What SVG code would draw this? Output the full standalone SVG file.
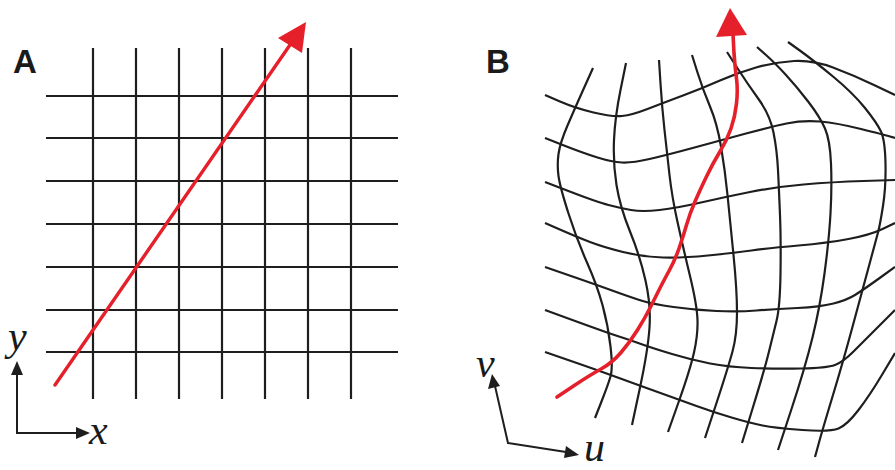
<svg xmlns="http://www.w3.org/2000/svg" width="895" height="470" viewBox="0 0 895 470">
<style>
.grid{fill:none;stroke:#1e1e1e;stroke-width:2.2;stroke-linecap:butt}
.red{fill:none;stroke:#e5202b;stroke-linecap:round}
.redfill{fill:#e5202b}
.axis{fill:none;stroke:#1e1e1e;stroke-width:2}
.axhead{fill:#1e1e1e}
.panel{font-family:"Liberation Sans",Arial,sans-serif;font-weight:bold;font-size:33px;fill:#1a1a1a}
.var{font-family:"Liberation Serif","Times New Roman",serif;font-style:italic;font-size:42px;fill:#1a1a1a}
</style>
<rect width="895" height="470" fill="#ffffff"/>

<g id="panelA">
  <text class="panel" x="13" y="73">A</text>
  <g id="gridA" class="grid">
    <line x1="93" y1="48" x2="93" y2="399"/>
    <line x1="136" y1="48" x2="136" y2="399"/>
    <line x1="179" y1="48" x2="179" y2="399"/>
    <line x1="222" y1="48" x2="222" y2="399"/>
    <line x1="265" y1="48" x2="265" y2="399"/>
    <line x1="308" y1="48" x2="308" y2="399"/>
    <line x1="351" y1="48" x2="351" y2="399"/>
    <line x1="46" y1="96" x2="398" y2="96"/>
    <line x1="46" y1="138" x2="398" y2="138"/>
    <line x1="46" y1="181" x2="398" y2="181"/>
    <line x1="46" y1="224" x2="398" y2="224"/>
    <line x1="46" y1="267" x2="398" y2="267"/>
    <line x1="46" y1="310" x2="398" y2="310"/>
    <line x1="46" y1="352" x2="398" y2="352"/>
  </g>
  <g id="pathA">
    <line class="red" stroke-width="3.4" x1="55" y1="385" x2="292" y2="42"/>
    <polygon class="redfill" points="306,22 278,38 302,53"/>
  </g>
  <g id="axesA">
    <polyline class="axis" points="17,372 17,433 78,433"/>
    <polygon class="axhead" points="17,361 11,375 23,375"/>
    <polygon class="axhead" points="90,433 76,427 76,439"/>
    <text class="var" x="8" y="350">y</text>
    <text class="var" x="89" y="444">x</text>
  </g>
</g>

<g id="panelB">
  <text class="panel" x="486" y="73">B</text>
  <g id="gridB" class="grid">
    <path d="M545,95 L560,101.5 Q575,108 593.5,112.5 Q612,117 622,116 Q632,115 647.5,109 Q663,103 683,95.5 Q703,88 720,80.5 Q737,73 756,67.5 Q775,62 794,61 Q813,60 833,67.5 Q853,75 874,85 L895,95"/>
    <path d="M545,138 L564,145.5 Q583,153 597.5,157.5 Q612,162 622,162.5 Q632,163 649.5,159 Q667,155 694.5,147.5 Q722,140 746,133.5 Q770,127 786.5,123.5 Q803,120 820,121.5 Q837,123 861,129 Q885,135 890,136.5 L895,138"/>
    <path d="M545,182 L571,192 Q597,202 608.5,205 Q620,208 631,210 Q642,212 659.5,210 Q677,208 701,202.5 Q725,197 750,192 Q775,187 803.5,184.5 Q832,182 863.5,181 L895,180"/>
    <path d="M545,223 L561,230 Q577,237 590,242 Q603,247 623,252 Q643,257 663,257.5 Q683,258 708,255.5 Q733,253 751.5,250.5 Q770,248 798.5,245.5 Q827,243 848.5,239 Q870,235 882.5,229 L895,223"/>
    <path d="M545,267 L571,276 Q597,285 613.5,291 Q630,297 641,300.5 Q652,304 673.5,307 Q695,310 716.5,311 Q738,312 756.5,310.5 Q775,309 797.5,308 Q820,307 833.5,303.5 Q847,300 855,295 Q863,290 879,278.5 L895,267"/>
    <path d="M545,310 L576.5,321.5 Q608,333 619,336.5 Q630,340 641,344 Q652,348 672,354 Q692,360 710,363.5 Q728,367 751.5,368 Q775,369 801,368.5 Q827,368 835,365 Q843,362 853,352 Q863,342 879,326 L895,310"/>
    <path d="M545,352 L571,361 Q597,370 613.5,376 Q630,382 641,386 Q652,390 666,395 Q680,400 696.5,406 Q713,412 731.5,417.5 Q750,423 762.5,425.5 Q775,428 802.5,430 Q830,432 838.5,428.5 Q847,425 858.5,410 Q870,395 882.5,374 L895,353"/>
    <path d="M593,68 L584,88 Q575,108 567.5,125.5 Q560,143 558.5,154 Q557,165 558.5,176 Q560,187 568.5,213.5 Q577,240 587,262.5 Q597,285 602.5,305 Q608,325 610.5,346.5 Q613,368 610.5,376.5 Q608,385 601.5,401.5 L595,418"/>
    <path d="M626,63 L620.5,90 Q615,117 614,140 Q613,163 616.5,185 Q620,207 630,231.5 Q640,256 645.5,280.5 Q651,305 649.5,327.5 Q648,350 640,387.5 L632,425"/>
    <path d="M659,60 L660.5,83.5 Q662,107 664.5,130 Q667,153 669.5,175 Q672,197 677.5,222 Q683,247 690,276 Q697,305 697.5,320 Q698,335 694,352.5 Q690,370 679,401 L668,432"/>
    <path d="M692,55 L697.5,72.5 Q703,90 710,106.5 Q717,123 721,146.5 Q725,170 727.5,195 Q730,220 733.5,255 Q737,290 737,312.5 Q737,335 732.5,351.5 Q728,368 716.5,403 L705,438"/>
    <path d="M727,52 L737,67.5 Q747,83 758.5,99 Q770,115 773.5,132.5 Q777,150 778,170 Q779,190 780,215 Q781,240 780.5,273.5 Q780,307 776.5,321 Q773,335 769,351.5 Q765,368 753.5,405.5 L742,443"/>
    <path d="M757,47 L766,55 Q775,63 786,75 Q797,87 808.5,102 Q820,117 825,128.5 Q830,140 831,163.5 Q832,187 830.5,213.5 Q829,240 824.5,273.5 Q820,307 812.5,337.5 Q805,368 791.5,409 L778,450"/>
    <path d="M788,42 L800.5,51 Q813,60 833,76.5 Q853,93 865,108 Q877,123 881,131.5 Q885,140 885.5,163.5 Q886,187 883,206 Q880,225 878,232.5 Q876,240 869.5,264 Q863,288 853,325 Q843,362 833,395 Q823,428 819,442.5 L815,457"/>
  </g>
  <g id="pathB">
    <path class="red" stroke-width="3.6" d="M557,397 L573.5,386 Q590,375 601,369 Q612,363 621,352.5 Q630,342 637.5,330 Q645,318 650,308 Q655,298 659,290 Q663,282 669,271 Q675,260 679,248.5 Q683,237 686.5,225 Q690,213 695,201.5 Q700,190 706.5,176.5 Q713,163 720,151.5 Q727,140 731,128.5 Q735,117 736.5,103.5 Q738,90 736.5,78.5 Q735,67 734,53.5 L733,34"/>
    <polygon class="redfill" points="730,8 716,37 747,35"/>
  </g>
  <g id="axesB">
    <polyline class="axis" points="495,386 508,443 566,452"/>
    <polygon class="axhead" points="492,374 488,389 500,386"/>
    <polygon class="axhead" points="579,455 566,446 564,458"/>
    <text class="var" x="476" y="377">v</text>
    <text class="var" x="584" y="461">u</text>
  </g>
</g>
</svg>
